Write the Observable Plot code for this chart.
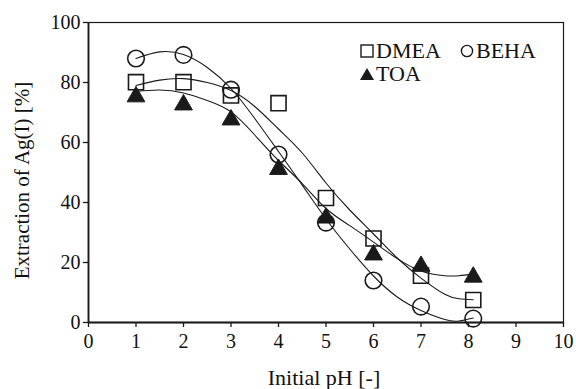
<!DOCTYPE html>
<html>
<head>
<meta charset="utf-8">
<script src="https://cdn.jsdelivr.net/npm/d3@7"></script>
<script src="https://cdn.jsdelivr.net/npm/@observablehq/plot@0.6"></script>
<style>
  body { margin: 0; background: #fff; }
  #wrap { position: relative; width: 576px; height: 389px; }
  #wrap svg, #wrap svg text { font-family: "Liberation Serif", "Times New Roman", serif !important; }
  .lg { position: absolute; font-family: "Liberation Serif", "Times New Roman", serif; font-size: 22px; color: #111; line-height: 1; white-space: nowrap; display: flex; align-items: center; }
  .lg svg { margin-right: 1px; }
</style>
</head>
<body>
<div id="wrap"></div>
<script>
// Measured points
const pH = [1, 2, 3, 4, 5, 6, 7, 8.1];
const dmea = [80.1, 80.1, 75.7, 73.1, 41.5, 28.0, 15.6, 7.5];
const beha = [88.0, 89.2, 77.6, 56.0, 33.3, 14.0, 5.3, 1.3];
const toa  = [76.1, 73.4, 68.4, 51.9, 35.7, 23.4, 19.6, 16.0];

// Fitted curves
const curvePH   = [1, 1.5, 2, 2.5, 3, 3.5, 4, 4.5, 5, 5.5, 6, 6.5, 7, 7.5, 7.8, 8.1];
const dmeaCurve = [79.0, 80.8, 81.3, 80.0, 77.3, 72.0, 64.5, 56.5, 46.5, 37.5, 29.5, 21.5, 14.8, 9.4, 7.9, 7.6];
const behaCurve = [88.0, 90.2, 89.3, 85.0, 78.0, 68.0, 57.0, 45.8, 34.5, 24.5, 15.5, 8.5, 4.0, 1.0, 0.5, 1.5];
const toaCurve  = [77.0, 77.5, 76.5, 74.0, 70.2, 62.5, 54.0, 46.3, 38.0, 32.3, 26.8, 21.3, 17.2, 15.6, 15.6, 16.2];

const xTicks = [0, 1, 2, 3, 4, 5, 6, 7, 8, 9, 10];
const yTicks = [0, 20, 40, 60, 80, 100];
const xLabel = "Initial pH [-]";
const yLabel = "Extraction of Ag(I) [%]";
const names = ["DMEA", "BEHA", "TOA"];

const pts = (ys) => pH.map((x, i) => ({x, y: ys[i]}));
const crv = (ys) => curvePH.map((x, i) => ({x, y: ys[i]}));

const ink = "#1a1a1a";

const chart = Plot.plot({
  width: 576,
  height: 389,
  marginLeft: 88,
  marginRight: 13,
  marginTop: 22,
  marginBottom: 67,
  style: { fontSize: "20px", color: "#111", background: "white" },
  x: { domain: [0, 10] },
  y: { domain: [0, 100] },
  marks: [
    Plot.frame({ stroke: ink, strokeWidth: 1.2 }),
    Plot.axisX({ ticks: xTicks, tickSize: 5, tickPadding: 6, tickFormat: d => String(d), label: null, stroke: ink, strokeWidth: 1.3 }),
    Plot.axisY({ ticks: yTicks, tickSize: 5, tickPadding: 3, tickFormat: d => String(d), label: null, stroke: ink, strokeWidth: 1.3 }),
    Plot.text([xLabel], { text: d => d, frameAnchor: "bottom", dx: -2, dy: 55, lineAnchor: "middle", fontSize: 22, fill: "#111" }),
    Plot.text([yLabel], { text: d => d, frameAnchor: "left", rotate: -90, dx: -66, dy: 8, lineAnchor: "middle", textAnchor: "middle", fontSize: 21, fill: "#111" }),
    Plot.ruleY([0], { stroke: ink, strokeWidth: 1.8 }),
    Plot.ruleX([0], { stroke: ink, strokeWidth: 1.8 }),
    Plot.line(crv(dmeaCurve), { x: "x", y: "y", curve: "natural", stroke: ink, strokeWidth: 1.1 }),
    Plot.line(crv(behaCurve), { x: "x", y: "y", curve: "natural", stroke: ink, strokeWidth: 1.1 }),
    Plot.line(crv(toaCurve),  { x: "x", y: "y", curve: "natural", stroke: ink, strokeWidth: 1.1 }),
    Plot.dot(pts(dmea), { x: "x", y: "y", symbol: "square", r: 8.5, stroke: ink, strokeWidth: 1.6, fill: "none" }),
    Plot.dot(pts(beha), { x: "x", y: "y", symbol: "circle", r: 8.3, stroke: ink, strokeWidth: 1.6, fill: "none" }),
    Plot.dot(pts(toa),  { x: "x", y: "y", symbol: "triangle", r: 6.6, dy: 2.5, stroke: ink, strokeWidth: 1, fill: ink })
  ]
});

const wrap = document.getElementById("wrap");
wrap.appendChild(chart);

function legendItem(left, top, shape, text) {
  const d = document.createElement("div");
  d.className = "lg";
  d.style.left = left + "px";
  d.style.top = top + "px";
  d.innerHTML = `<svg width="16" height="16" viewBox="0 0 16 16">${shape}</svg><span>${text}</span>`;
  wrap.appendChild(d);
}
legendItem(359, 40, `<rect x="2" y="2" width="12" height="12" fill="none" stroke="${ink}" stroke-width="1.4"/>`, names[0]);
legendItem(459, 40, `<circle cx="8" cy="8" r="5.6" fill="none" stroke="${ink}" stroke-width="1.4"/>`, names[1]);
legendItem(359, 63, `<polygon points="8,2 15,14 1,14" fill="${ink}"/>`, names[2]);
</script>
</body>
</html>
